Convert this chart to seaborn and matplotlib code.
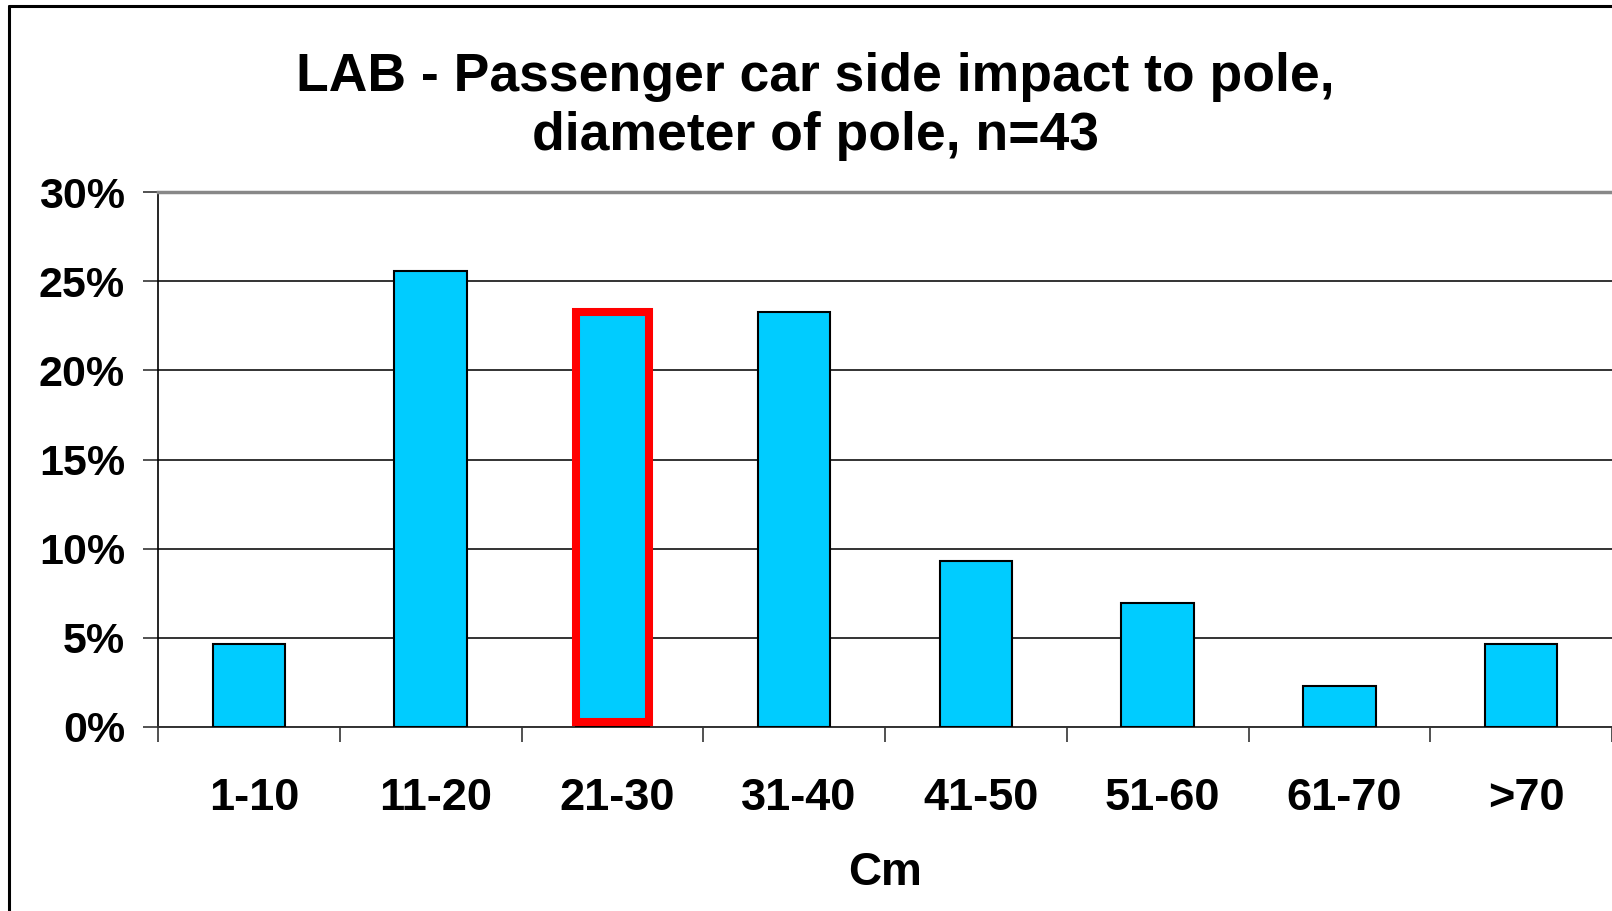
import matplotlib
matplotlib.use('Agg')
import matplotlib.pyplot as plt
from matplotlib.patches import Rectangle
from matplotlib.lines import Line2D
from matplotlib.ticker import FuncFormatter, FixedLocator
from matplotlib.transforms import ScaledTranslation
import seaborn as sns
import pandas as pd

# pole diameter classes and share of cases (counts out of n=43)
categories = ['1-10', '11-20', '21-30', '31-40', '41-50', '51-60', '61-70', '>70']
counts = [2, 11, 10, 10, 4, 3, 1, 2]
n_total = 43
highlight = '21-30'

df = pd.DataFrame({'diameter': categories,
                   'share': [c / n_total * 100 for c in counts]})

sns.set_style('white')
plt.rcParams['font.family'] = ['Liberation Sans', 'DejaVu Sans']
plt.rcParams['font.weight'] = 'bold'
plt.rcParams['text.color'] = 'black'
plt.rcParams['xtick.labelcolor'] = 'black'
plt.rcParams['ytick.labelcolor'] = 'black'
plt.rcParams['axes.labelcolor'] = 'black'

fig = plt.figure(figsize=(16.12, 9.11), dpi=100)
ax = fig.add_axes([158 / 1612, 1 - 727 / 911, 1 - 158 / 1612, (727 - 192) / 911])

sns.barplot(data=df, x='diameter', y='share', ax=ax, color='#00CCFF',
            saturation=1, width=0.4, edgecolor='black', linewidth=1.5, zorder=3)

# red frame round the highlighted class
bar = ax.patches[categories.index(highlight)]
ax.add_patch(Rectangle((bar.get_x(), 0.28), bar.get_width(), bar.get_height() - 0.28,
                       fill=False, edgecolor='#FF0000', linewidth=5.8, zorder=4))

ax.set_xlim(-0.5, len(categories) - 0.5)
ax.set_ylim(0, 30)
ax.set_yticks(range(0, 31, 5))
ax.yaxis.set_major_formatter(FuncFormatter(lambda v, p: f'{int(v)}%'))
ax.yaxis.grid(True, color='#333333', linewidth=1.4, zorder=0)

ax.spines['right'].set_visible(False)
ax.spines['top'].set_color('#888888')
ax.spines['top'].set_linewidth(2.5)
ax.spines['left'].set_color('black')
ax.spines['left'].set_linewidth(1.2)
ax.spines['bottom'].set_color('#333333')
ax.spines['bottom'].set_linewidth(1.4)

ax.tick_params(axis='y', which='major', left=True, length=10.8, width=1.2,
               color='#333333', pad=13, labelsize=31, labelcolor='black')
ax.tick_params(axis='x', which='major', bottom=False, length=0, pad=37, labelsize=32.5,
               labelcolor='black')
ax.xaxis.set_minor_locator(FixedLocator([i - 0.5 for i in range(len(categories) + 1)]))
ax.tick_params(axis='x', which='minor', bottom=True, length=10.8, width=1.2,
               color='#333333', direction='out')

# category labels sit a few pixels right of the bar centres in the original
shift = ScaledTranslation(5 / 100, 0, fig.dpi_scale_trans)
for lab in ax.get_xticklabels():
    lab.set_fontweight('bold')
    lab.set_transform(lab.get_transform() + shift)
for lab in ax.get_yticklabels():
    lab.set_fontweight('bold')

ax.set_ylabel('')
ax.set_xlabel('Cm', fontsize=33, fontweight='bold', color='black')
ax.xaxis.set_label_coords(0.5, (727 - 885) / 535)
ax.xaxis.label.set_va('baseline')

fig.text(815 / 1612, 1 - 91 / 911, 'LAB - Passenger car side impact to pole,',
         ha='center', va='baseline', fontsize=38.5, fontweight='bold', color='black')
fig.text(815 / 1612, 1 - 150 / 911, f'diameter of pole, n={n_total}',
         ha='center', va='baseline', fontsize=38.5, fontweight='bold', color='black')

# slide frame (left and top edges visible)
fig.add_artist(Line2D([9 / 1612, 9 / 1612], [0, 1 - 6 / 911], color='black',
                      linewidth=2.2, transform=fig.transFigure))
fig.add_artist(Line2D([9 / 1612, 1], [1 - 6 / 911, 1 - 6 / 911], color='black',
                      linewidth=2.2, transform=fig.transFigure))

plt.savefig('out.png', dpi=100)
plt.close()
